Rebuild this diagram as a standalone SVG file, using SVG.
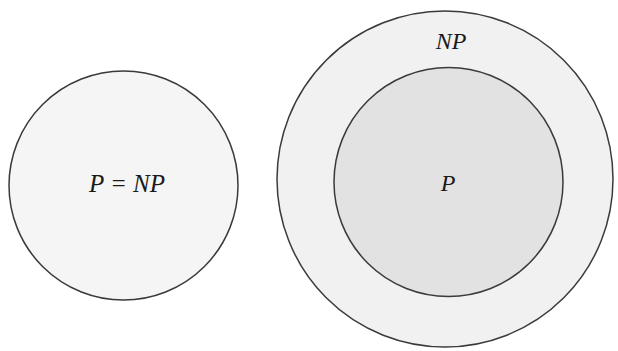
<svg xmlns="http://www.w3.org/2000/svg" width="618" height="351" viewBox="0 0 618 351">
<style>
.c{stroke:#3a3a3a;stroke-width:1.5}
.t{font-family:'Liberation Serif',serif;font-style:italic;fill:#1a1a1a;text-anchor:middle}
</style>
<rect width="618" height="351" fill="#ffffff"/>
<g id="equal">
<circle class="c" cx="123.5" cy="185.5" r="114.5" fill="#f5f5f5"/>
<text class="t" x="127" y="192" font-size="25">P = NP</text>
</g>
<g id="np">
<circle class="c" cx="445" cy="179" r="168" fill="#f1f1f1"/>
<text class="t" x="451" y="49" font-size="24">NP</text>
</g>
<g id="p">
<circle class="c" cx="448.5" cy="182" r="114.5" fill="#e2e2e2" stroke-width="1.2"/>
<text class="t" x="448" y="191" font-size="24">P</text>
</g>
<g id="connectors"/>
</svg>
